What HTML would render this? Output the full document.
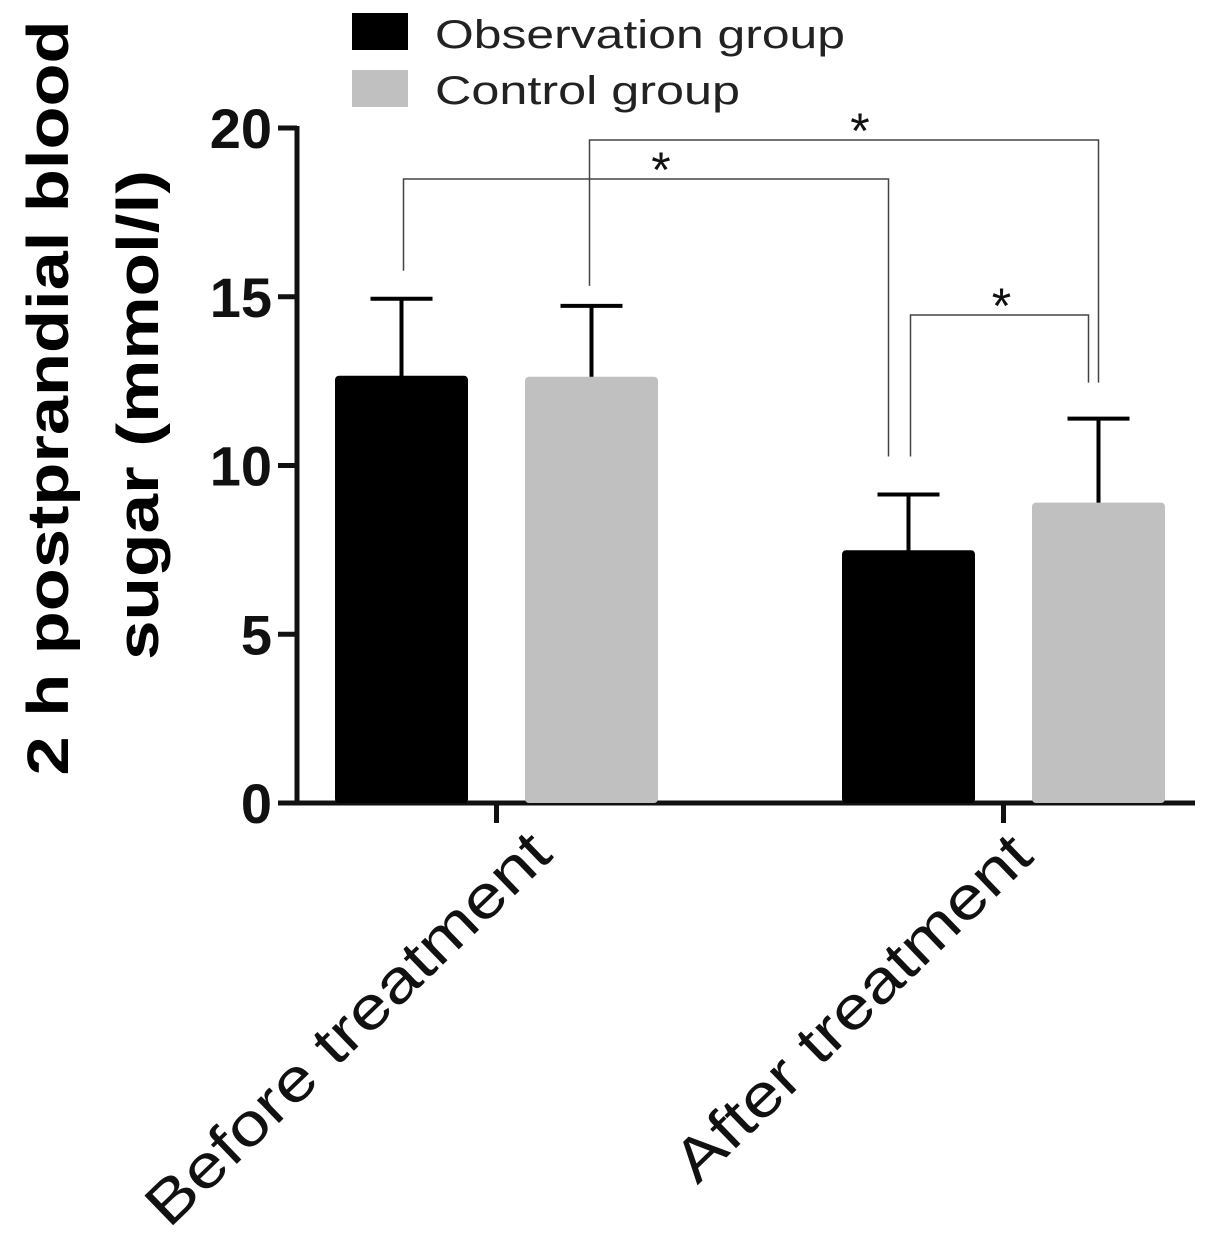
<!DOCTYPE html>
<html><head><meta charset="utf-8"><style>
body{margin:0;background:#fff;}
svg{display:block;font-family:"Liberation Sans",Arial,sans-serif;}
</style></head><body>
<svg id="chart" width="1205" height="1233" viewBox="0 0 1205 1233" xmlns="http://www.w3.org/2000/svg">
<g id="legend">
  <rect x="352" y="13" width="56" height="37" fill="#000"/>
  <text x="435" y="48" font-size="40" fill="#222" textLength="410" lengthAdjust="spacingAndGlyphs">Observation group</text>
  <rect x="352" y="70" width="56" height="37" fill="#c0c0c0"/>
  <text x="435" y="104" font-size="40" fill="#222" textLength="305" lengthAdjust="spacingAndGlyphs">Control group</text>
</g>
<g>
  <text x="0" y="0" font-size="58" font-weight="bold" text-anchor="middle" textLength="755" lengthAdjust="spacingAndGlyphs" transform="translate(68,398) rotate(-90)">2 h postprandial blood</text>
  <text x="0" y="0" font-size="58" font-weight="bold" text-anchor="middle" textLength="490" lengthAdjust="spacingAndGlyphs" transform="translate(158,415) rotate(-90)">sugar (mmol/l)</text>
</g>
<g id="plot"></g>
</svg>
<script>
const categories = ["Before treatment", "After treatment"];
const seriesNames = ["Observation group", "Control group"];
const obsMeans = [12.66, 7.49];
const obsErr = [2.28, 1.65];
const ctrlMeans = [12.63, 8.9];
const ctrlErr = [2.1, 2.49];
const yTicks = [0, 5, 10, 15, 20];
const stars = ["*", "*", "*"];

const NS = "http://www.w3.org/2000/svg";
const g = document.getElementById('plot');
const y0 = 803, yTop = 128, yMax = 20;
function yScale(v){ return y0 - (y0 - yTop) * v / yMax; }
const groupLeft = [335, 842];
const barW = 133, barGap = 57;
const labelLen = [536, 470];
const labelDx = [58, 32];
const labelDy = [54, 56];
function barX(ci, si){ return groupLeft[ci] + si * (barW + barGap); }
function el(tag, attrs){ const e = document.createElementNS(NS, tag); for (const k in attrs) e.setAttribute(k, attrs[k]); g.appendChild(e); return e; }

let ax = el('line',{x1:297,y1:yTop-2,x2:297,y2:y0+2,stroke:'#111','stroke-width':5});


let xa = el('line',{x1:295,y1:y0,x2:1195,y2:y0,stroke:'#111','stroke-width':5});


yTicks.forEach(t=>{
  const y = yScale(t);
  const tk = el('line',{x1:278,y1:y,x2:297,y2:y,stroke:'#111','stroke-width':5});
  
  
  const tl = el('text',{x:272,y:y+20,'font-size':56,'font-weight':'bold','text-anchor':'end',fill:'#111'});
  tl.textContent = t;
  
  
});
categories.forEach((c,ci)=>{
  const cx = (barX(ci,0) + barX(ci,1) + barW)/2;
  const tk = el('line',{x1:cx,y1:y0,x2:cx,y2:y0+20,stroke:'#111','stroke-width':5});
  
  
  const tl = el('text',{x:0,y:0,'font-size':60,'text-anchor':'end',fill:'#111',textLength:labelLen[ci],lengthAdjust:'spacingAndGlyphs',transform:`translate(${cx+labelDx[ci]},${y0+labelDy[ci]}) rotate(-44)`});
  tl.textContent = c;
  
  
});
[[obsMeans,obsErr,'#000','observation'],[ctrlMeans,ctrlErr,'#c0c0c0','control']].forEach(([m,e,col,nm],si)=>{
  m.forEach((v,ci)=>{
    const x = barX(ci,si), yt = yScale(v), cx = x + barW/2;
    const ye = yScale(v + e[ci]);
    const eb = el('path',{d:`M${cx},${yt+4} V${ye} M${cx-31},${ye} H${cx+31}`,stroke:'#000','stroke-width':4,fill:'none'});
    
    
    const b = el('rect',{x:x,y:yt,width:barW,height:y0-yt,fill:col,rx:4});
    
    
  });
});
const ctr = (ci,si)=>barX(ci,si)+barW/2;
const brackets = [
  [ctr(0,0)+2, yScale(obsMeans[0]+obsErr[0])-28, ctr(1,0)-20, yScale(obsMeans[1]+obsErr[1])-38, 179, 15],
  [ctr(0,1)-2, yScale(ctrlMeans[0]+ctrlErr[0])-20, ctr(1,1)-0, yScale(ctrlMeans[1]+ctrlErr[1])-36, 140, 16],
  [ctr(1,0)+2, yScale(obsMeans[1]+obsErr[1])-38, ctr(1,1)-10, yScale(ctrlMeans[1]+ctrlErr[1])-36, 315, 2]
];
brackets.forEach((b,i)=>{
  const p = el('path',{d:`M${b[0]},${b[1]} V${b[4]} H${b[2]} V${b[3]}`,stroke:'#444','stroke-width':1.5,fill:'none'});
  
  
  const s = el('text',{x:(b[0]+b[2])/2+b[5],y:b[4]+8,'font-size':50,'text-anchor':'middle',fill:'#111'});
  s.textContent = stars[i];
  
  
});
</script>
</body></html>
